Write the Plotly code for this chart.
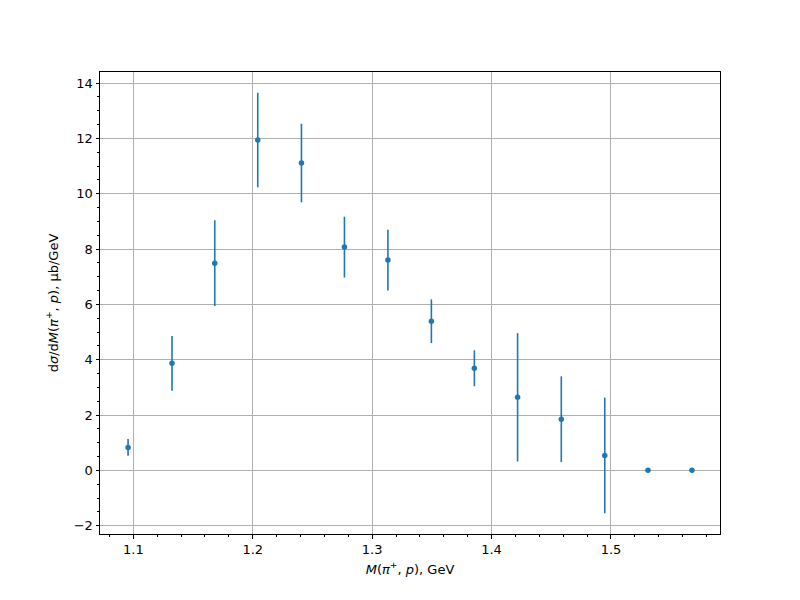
import plotly.graph_objects as go

mass_gev = [1.0956, 1.1324, 1.1682, 1.2042, 1.2408, 1.2768, 1.3132, 1.3496, 1.3856, 1.4218, 1.4584, 1.4948, 1.5310, 1.5678]
dsigma = [0.83, 3.87, 7.49, 11.94, 11.11, 8.07, 7.60, 5.39, 3.69, 2.64, 1.85, 0.54, 0.0, 0.0]
dsigma_err = [0.30, 0.99, 1.55, 1.71, 1.42, 1.10, 1.10, 0.79, 0.65, 2.32, 1.55, 2.09, 0.0, 0.0]

x_ticks = [1.1, 1.2, 1.3, 1.4, 1.5]
x_tick_labels = ["1.1", "1.2", "1.3", "1.4", "1.5"]
y_ticks = [-2, 0, 2, 4, 6, 8, 10, 12, 14]
y_tick_labels = ["−2", "0", "2", "4", "6", "8", "10", "12", "14"]

color = "#1f77b4"
font = "DejaVu Sans, sans-serif"

fig = go.Figure()
fig.add_trace(go.Scatter(
    x=mass_gev, y=dsigma, mode="markers",
    marker=dict(color=color, size=5.5),
    error_y=dict(type="data", array=dsigma_err, visible=True,
                 color=color, thickness=1.6, width=0),
    showlegend=False,
))

axis_common = dict(
    showline=True, linecolor="black", linewidth=1, mirror=True,
    ticks="outside", ticklen=3.5, tickwidth=0.8, tickcolor="black",
    showgrid=True, gridcolor="#b0b0b0", gridwidth=0.8,
    zeroline=False,
    tickfont=dict(family=font, size=13, color="black"),
)

fig.update_xaxes(
    **axis_common,
    range=[1.0721, 1.5913],
    tickmode="array", tickvals=x_ticks, ticktext=x_tick_labels,
    minor=dict(tick0=1.0, dtick=0.02, ticks="outside", ticklen=2,
               tickwidth=0.6, tickcolor="black", showgrid=False),
    title=dict(text="<i>M</i>(<i>π</i><sup>+</sup>, <i>p</i>), GeV",
               font=dict(family=font, size=13, color="black"), standoff=8),
)
fig.update_yaxes(
    **axis_common,
    range=[-2.30, 14.40],
    tickmode="array", tickvals=y_ticks, ticktext=y_tick_labels,
    minor=dict(tick0=0, dtick=0.5, ticks="outside", ticklen=2,
               tickwidth=0.6, tickcolor="black", showgrid=False),
    title=dict(text="d<i>σ</i>/d<i>M</i>(<i>π</i><sup>+</sup>, <i>p</i>), μb/GeV",
               font=dict(family=font, size=13, color="black"), standoff=12),
)

fig.update_layout(
    width=800, height=600,
    margin=dict(l=92, r=88, t=64, b=74, autoexpand=False),
    paper_bgcolor="white", plot_bgcolor="white",
    font=dict(family=font, size=13, color="black"),
)

fig.write_html("out.html")
